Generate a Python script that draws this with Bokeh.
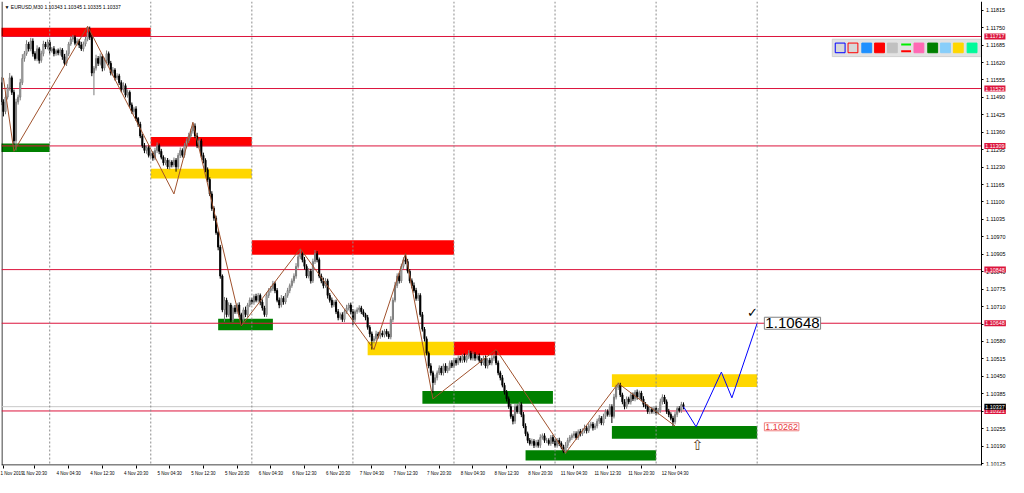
import numpy as np
from bokeh.plotting import figure
from bokeh.models import (ColumnDataSource, Range1d, FixedTicker, PrintfTickFormatter,
                          Label, Span)
from bokeh.embed import file_html
from bokeh.resources import INLINE

# ---------------- data (EURUSD M30, prices in points above 1.10000) ----------------
first_open_pts = 1545
close_pts = [
    1473, 1437, 1491, 1527, 1563, 1509, 1328, 1473, 1491, 1545,
    1635, 1653, 1689, 1671, 1700, 1653, 1635, 1671, 1628, 1653,
    1689, 1678, 1696, 1664, 1671, 1653, 1664, 1656, 1667, 1642,
    1617, 1653, 1689, 1707, 1714, 1692, 1700, 1685, 1671, 1689,
    1707, 1732, 1714, 1581, 1599, 1635, 1617, 1642, 1599, 1628,
    1653, 1617, 1581, 1592, 1563, 1570, 1545, 1519, 1534, 1498,
    1509, 1462, 1437, 1447, 1411, 1390, 1346, 1310, 1292, 1303,
    1274, 1282, 1264, 1292, 1310, 1289, 1267, 1246, 1256, 1231,
    1249, 1238, 1256, 1231, 1274, 1292, 1274, 1310, 1328, 1346,
    1365, 1383, 1346, 1310, 1328, 1274, 1256, 1220, 1184, 1130,
    1076, 1040, 986, 932, 824, 698, 734, 680, 716, 662,
    705, 691, 716, 680, 662, 698, 680, 716, 734, 727,
    748, 734, 752, 727, 705, 680, 752, 770, 777, 795,
    770, 734, 716, 741, 727, 752, 770, 788, 806, 824,
    860, 896, 907, 885, 860, 824, 842, 806, 878, 907,
    885, 824, 806, 788, 806, 752, 734, 716, 727, 691,
    669, 680, 662, 691, 705, 716, 691, 662, 691, 698,
    705, 691, 680, 669, 633, 608, 583, 590, 608, 600,
    611, 604, 618, 608, 597, 662, 734, 788, 824, 806,
    860, 885, 878, 842, 806, 788, 770, 741, 752, 680,
    626, 590, 536, 489, 463, 427, 445, 463, 481, 463,
    489, 471, 481, 500, 489, 510, 500, 518, 510, 525,
    510, 525, 536, 518, 532, 518, 525, 510, 500, 518,
    489, 510, 500, 518, 525, 500, 463, 445, 417, 391,
    366, 337, 301, 283, 337, 319, 345, 308, 265, 236,
    211, 200, 208, 193, 204, 193, 222, 229, 211, 211,
    200, 222, 208, 193, 211, 200, 186, 171, 193, 211,
    222, 229, 236, 222, 244, 236, 247, 258, 247, 265,
    272, 258, 265, 283, 294, 276, 301, 319, 308, 337,
    301, 373, 409, 417, 381, 355, 337, 366, 355, 381,
    366, 391, 373, 388, 366, 345, 337, 319, 326, 319,
    330, 315, 323, 355, 373, 355, 319, 308, 294, 280,
    308, 330, 323, 345, 337,
]
wick_hi_pts = [
    20, 10, 15, 12, 18, 8, 10, 12, 9, 14,
    16, 10, 14, 8, 12, 10, 9, 13, 7, 11,
    12, 8, 10, 9, 7, 10, 6, 8, 9, 7,
    10, 12, 8, 11, 9, 7, 10, 8, 12, 9,
    10, 22, 22, 10, 8, 14, 9, 12, 8, 10,
    12, 8, 9, 11, 7, 10, 8, 9, 12, 8,
    10, 7, 9, 8, 10, 6, 9, 8, 10, 7,
    9, 8, 7, 10, 12, 8, 9, 7, 10, 8,
    9, 7, 10, 8, 9, 11, 8, 10, 9, 12,
    8, 14, 10, 12, 9, 8, 10, 7, 9, 8,
    10, 8, 9, 7, 8, 6, 12, 9, 10, 8,
    9, 11, 8, 10, 7, 9, 12, 8, 10, 9,
    8, 10, 9, 7, 10, 8, 12, 9, 10, 11,
    8, 9, 10, 12, 8, 9, 10, 8, 9, 10,
    12, 10, 18, 9, 10, 8, 12, 9, 11, 14,
    10, 8, 9, 12, 10, 8, 9, 10, 8, 9,
    10, 8, 9, 10, 12, 8, 9, 10, 8, 9,
    10, 8, 9, 7, 10, 8, 9, 10, 12, 8,
    9, 10, 8, 9, 10, 12, 10, 14, 10, 12,
    10, 9, 22, 10, 8, 9, 12, 10, 9, 8,
    10, 8, 9, 7, 10, 8, 12, 9, 10, 8,
    9, 10, 8, 9, 10, 8, 9, 10, 8, 9,
    10, 8, 12, 9, 10, 8, 9, 10, 8, 9,
    10, 8, 9, 12, 10, 21, 9, 8, 10, 9,
    8, 9, 10, 8, 12, 9, 10, 8, 9, 10,
    8, 9, 10, 8, 9, 10, 12, 8, 9, 10,
    8, 9, 10, 8, 9, 10, 8, 9, 12, 10,
    9, 8, 10, 9, 8, 10, 9, 12, 8, 10,
    9, 8, 10, 9, 12, 8, 10, 9, 8, 10,
    9, 12, 10, 10, 9, 8, 10, 9, 8, 10,
    9, 8, 10, 9, 8, 10, 9, 8, 10, 9,
    8, 10, 9, 12, 10, 8, 9, 10, 8, 9,
    10, 8, 9, 10, 8,
]
wick_lo_pts = [
    12, 18, 10, 9, 12, 10, 14, 36, 10, 12,
    9, 12, 8, 10, 9, 11, 8, 10, 12, 9,
    10, 8, 9, 11, 7, 10, 8, 9, 10, 12,
    8, 10, 9, 7, 10, 8, 9, 11, 8, 10,
    9, 8, 10, 12, 83, 9, 10, 8, 12, 9,
    10, 8, 9, 12, 10, 8, 9, 10, 11, 8,
    9, 10, 8, 12, 9, 10, 8, 9, 10, 12,
    8, 9, 10, 8, 9, 11, 8, 10, 9, 8,
    10, 9, 8, 18, 9, 10, 8, 9, 10, 8,
    9, 10, 8, 9, 10, 8, 12, 9, 10, 8,
    9, 10, 8, 12, 10, 9, 44, 10, 8, 9,
    10, 8, 9, 10, 25, 8, 9, 10, 8, 9,
    10, 8, 9, 12, 10, 8, 9, 10, 8, 9,
    10, 8, 12, 9, 10, 8, 9, 10, 8, 9,
    10, 8, 9, 10, 12, 8, 9, 10, 8, 9,
    10, 8, 9, 10, 8, 12, 9, 10, 8, 9,
    10, 8, 9, 10, 8, 9, 10, 22, 9, 8,
    10, 9, 8, 10, 9, 12, 33, 10, 8, 9,
    10, 8, 9, 10, 8, 9, 10, 8, 9, 10,
    8, 9, 10, 8, 9, 10, 8, 9, 10, 8,
    9, 10, 8, 9, 10, 40, 9, 10, 8, 9,
    10, 8, 9, 10, 8, 9, 10, 8, 9, 10,
    8, 9, 10, 8, 9, 10, 8, 9, 10, 8,
    9, 10, 8, 9, 10, 8, 9, 10, 8, 9,
    10, 8, 9, 12, 10, 8, 9, 10, 8, 9,
    10, 8, 9, 10, 8, 9, 10, 8, 9, 10,
    8, 9, 10, 8, 9, 10, 8, 7, 9, 10,
    8, 9, 10, 8, 9, 10, 8, 9, 10, 8,
    9, 10, 8, 9, 10, 8, 9, 10, 8, 9,
    25, 8, 9, 10, 8, 9, 10, 8, 9, 10,
    8, 9, 10, 8, 9, 10, 8, 9, 10, 8,
    9, 10, 8, 9, 10, 8, 9, 10, 8, 15,
    9, 10, 8, 9, 10,
]
first_bar = -1  # bar slot of the first candle

x_tick_pos = [0, 15, 31, 47, 63, 79, 95, 111, 127, 143, 159, 175, 191, 207,
              223, 239, 255, 271, 287, 303, 319]
x_tick_labels = ["1 Nov 2019", "1 Nov 20:30", "4 Nov 04:30", "4 Nov 12:30", "4 Nov 20:30",
                 "5 Nov 04:30", "5 Nov 12:30", "5 Nov 20:30", "6 Nov 04:30", "6 Nov 12:30",
                 "6 Nov 20:30", "7 Nov 04:30", "7 Nov 12:30", "7 Nov 20:30", "8 Nov 04:30",
                 "8 Nov 12:30", "8 Nov 20:30", "11 Nov 04:30", "11 Nov 12:30",
                 "11 Nov 20:30", "12 Nov 04:30"]
y_ticks = [1.11815, 1.11750, 1.11685, 1.11620, 1.11555, 1.11490, 1.11425, 1.11360,
           1.11295, 1.11230, 1.11165, 1.11100, 1.11035, 1.10970, 1.10905, 1.10840,
           1.10775, 1.10710, 1.10645, 1.10580, 1.10515, 1.10450, 1.10385, 1.10320,
           1.10255, 1.10190, 1.10125]
separator_bars = [22, 70, 118, 166, 214, 262, 310, 358]
level_prices = [1.11717, 1.11523, 1.11309, 1.10848, 1.10648, 1.10321]
bid_price = 1.10337

zone_left = [-2, -2, 70, 70, 118, 102, 173, 214, 199, 248, 289, 289]
zone_right = [70, 22, 118, 118, 214, 128, 214, 262, 261, 310, 358, 358]
zone_top = [1.11750, 1.11318, 1.11342, 1.11224, 1.10957, 1.10665, 1.10579, 1.10579,
            1.10395, 1.10175, 1.10458, 1.10265]
zone_bottom = [1.11718, 1.11286, 1.11308, 1.11188, 1.10903, 1.10622, 1.10529, 1.10529,
               1.10348, 1.10136, 1.10410, 1.10217]
zone_kind = ["supply", "demand", "supply", "mid", "supply", "demand", "mid", "supply",
             "demand", "demand", "mid", "demand"]

zigzag_bars = [0, 5, 40, 81, 90, 113, 141, 176, 191, 204, 234, 267, 292, 319]
zigzag_prices = [1.11563, 1.11289, 1.11755, 1.11130, 1.11397, 1.10638, 1.10926, 1.10550,
                 1.10908, 1.10366, 1.10550, 1.10164, 1.10424, 1.10265]
proj_bars = [323, 329, 341, 346, 358]
proj_prices = [1.10337, 1.10262, 1.10466, 1.10370, 1.10648]
target_price = 1.10648
stop_price = 1.10262
title_text = "\u25bc EURUSD,M30  1.10343 1.10345 1.10335 1.10337"

# ---------------- geometry (reference-pixel -> data helpers) ----------------
FRAME_W, FRAME_H = 1006, 464


def bar_at(rx):
    return -0.9 + (rx - 1) / 2.139


def price_at(ry):
    return 1.11815 - (ry - 10) / 27750


CHART_RIGHT = bar_at(997)   # right border of the price area (price scale sits beyond it)

close = 1.1 + np.array(close_pts) / 1e5
opn = np.concatenate([[1.1 + first_open_pts / 1e5], close[:-1]])
high = np.maximum(opn, close) + np.array(wick_hi_pts) / 1e5
low = np.minimum(opn, close) - np.array(wick_lo_pts) / 1e5
bars = np.arange(len(close)) + first_bar
up = close >= opn

src = ColumnDataSource(dict(
    x=bars, o=opn, c=close, h=high, l=low,
    fill=["#ffffff" if u else "#000000" for u in up],
    line=["#7a7a7a" if u else "#000000" for u in up],
))

p = figure(frame_width=FRAME_W, frame_height=FRAME_H, output_backend="svg",
           toolbar_location=None,
           x_range=Range1d(bar_at(1), bar_at(1023)), y_range=Range1d(price_at(481), price_at(1)),
           y_axis_location="right", min_border_left=1, min_border_top=1,
           min_border_right=1, min_border_bottom=12)
p.background_fill_color = "white"
p.border_fill_color = "white"
p.outline_line_color = None
p.grid.visible = False

# axes
xa = p.xaxis[0]
xa.ticker = FixedTicker(ticks=x_tick_pos)
xa.major_label_overrides = {t: s for t, s in zip(x_tick_pos, x_tick_labels)}
xa.major_label_text_font = "Liberation Sans"
xa.major_label_text_font_size = "4.5px"
xa.major_label_text_color = "#000000"
xa.major_label_text_align = "left"
xa.major_label_standoff = 2
xa.major_tick_out = 3
xa.major_tick_in = 0
xa.major_tick_line_color = "#000000"
xa.minor_tick_out = 0
xa.minor_tick_in = 0
xa.axis_line_color = None

ya = p.yaxis[0]
ya.fixed_location = CHART_RIGHT
ya.ticker = FixedTicker(ticks=y_ticks)
ya.formatter = PrintfTickFormatter(format="%.5f")
ya.major_label_text_font = "Liberation Sans"
ya.major_label_text_font_size = "5.4px"
ya.major_label_text_color = "#000000"
ya.major_label_standoff = 2
ya.major_tick_out = 2
ya.major_tick_in = 0
ya.minor_tick_out = 0
ya.minor_tick_in = 0
ya.axis_line_color = "#000000"

# zones
zone_colors = {"supply": "#ff0000", "demand": "#008000", "mid": "#ffd700"}
p.quad(left=zone_left, right=zone_right, top=zone_top, bottom=zone_bottom,
       fill_color=[zone_colors[k] for k in zone_kind], line_color=None)

# period separators
for b in separator_bars:
    p.add_layout(Span(location=b, dimension="height", line_color="#8c8c8c",
                      line_dash="2 2", line_width=1))

# chart borders (left and bottom of the price area)
p.segment(x0=[bar_at(1.5)], x1=[bar_at(1.5)], y0=[price_at(1)], y1=[price_at(481)],
          line_color="#000000", line_width=1)
p.segment(x0=[bar_at(1)], x1=[CHART_RIGHT], y0=[price_at(480.5)], y1=[price_at(480.5)],
          line_color="#000000", line_width=1)

# horizontal levels
p.segment(x0=[bar_at(1)], x1=[CHART_RIGHT], y0=[bid_price], y1=[bid_price],
          line_color="#c8c8c8", line_width=1)
p.segment(x0=[bar_at(1)] * len(level_prices), x1=[CHART_RIGHT] * len(level_prices),
          y0=level_prices, y1=level_prices, line_color="#dc143c", line_width=1)

# candles
p.segment(x0="x", x1="x", y0="l", y1="h", line_color="line", source=src, line_width=1)
p.vbar(x="x", width=0.5, top="o", bottom="c", fill_color="fill", line_color="line",
       line_width=1, source=src)

# zigzag and projection
p.line(zigzag_bars, zigzag_prices, line_color="#a0522d", line_width=1)
p.line(proj_bars, proj_prices, line_color="#0000ff", line_width=1)

# button panel (top right)
p.quad(left=[bar_at(845)], right=[bar_at(996.5)], top=[price_at(40)], bottom=[price_at(58)],
       fill_color="#e2e2e2", line_color="#d0d0d0")
btn_x = [848, 861, 875, 888, 901, 928, 942, 955, 968, 982]
btn_fill = ["#d8d8d8", "#d8d8d8", "#1e90ff", "#ff0000", "#c0c0c0", "#ff69b4", "#008000",
            "#87cefa", "#ffd700", "#00fa9a"]
btn_line = ["#0000ff", "#ff0000", "#1e90ff", "#ff0000", "#c0c0c0", "#ff69b4", "#008000",
            "#87cefa", "#ffd700", "#00fa9a"]
p.quad(left=[bar_at(x) for x in btn_x], right=[bar_at(x + 10) for x in btn_x],
       top=[price_at(44)] * len(btn_x), bottom=[price_at(54)] * len(btn_x),
       fill_color=btn_fill, line_color=btn_line, line_width=1)
p.quad(left=[bar_at(915), bar_at(915)], right=[bar_at(925), bar_at(925)],
       top=[price_at(44.5), price_at(51.5)], bottom=[price_at(46.5), price_at(53.5)],
       fill_color=["#00ee00", "#ff0000"], line_color=None)

# title
p.add_layout(Label(x=bar_at(4), y=price_at(7), text=title_text, text_font="Liberation Sans",
                   text_font_size="5px", text_baseline="middle", text_color="#000000"))

# price-scale labels for the levels and the bid
for lv in level_prices:
    p.add_layout(Label(x=bar_at(999.5), y=lv, text=f"{lv:.5f}",
                       text_font="Liberation Sans", text_font_size="5.4px", text_color="white",
                       text_baseline="middle", background_fill_color="#dc143c", padding=1,
                       level="overlay"))
p.add_layout(Label(x=bar_at(999.5), y=bid_price, text=f"{bid_price:.5f}",
                   text_font="Liberation Sans", text_font_size="5.4px", text_color="white",
                   text_baseline="middle", background_fill_color="#000000", padding=1,
                   level="overlay"))

# target / stop labels
p.add_layout(Label(x=bar_at(776), y=target_price, text=f"{target_price:.5f}",
                   text_font="Liberation Sans", text_font_size="15px", text_color="#000000",
                   text_baseline="middle", background_fill_color="white",
                   border_line_color="#808080", padding=1))
p.add_layout(Label(x=bar_at(776), y=stop_price, text=f"{stop_price:.5f}",
                   text_font="Liberation Sans", text_font_size="9px", text_color="#e8383d",
                   text_baseline="middle", background_fill_color="white",
                   border_line_color="#f08080", padding=1))
p.add_layout(Label(x=bar_at(764), y=price_at(323), text="\u2713", text_font="DejaVu Sans",
                   text_font_size="13px", text_font_style="bold", text_color="#000000",
                   text_align="center", text_baseline="middle"))
p.add_layout(Label(x=bar_at(708), y=price_at(460), text="\u21e7", text_font="DejaVu Sans",
                   text_font_size="14px", text_color="#5a3a1a",
                   text_align="center", text_baseline="middle"))

open("out.html", "w").write(file_html(p, INLINE))
